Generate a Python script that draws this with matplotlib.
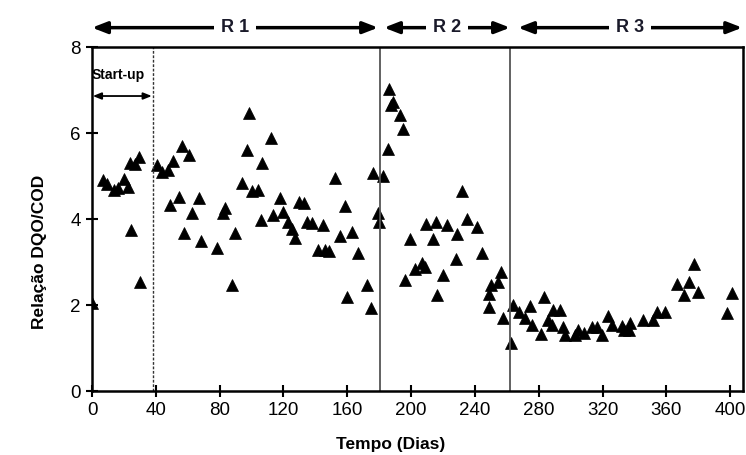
import matplotlib
matplotlib.use("Agg")
import matplotlib.pyplot as plt

plt.rcParams['font.family'] = ['Liberation Sans', 'DejaVu Sans']

# ---- data ----
days = [0, 7.1, 9.2, 14, 16.5, 20.3, 22.4, 23.8, 24.5, 27, 29.7, 30.1,
        40.5, 43.7, 47.4, 51, 56.2, 60.8, 48.9, 54.5, 62.9, 67.3, 57.9, 68.1,
        78.2, 82.3, 83.4, 88, 89.7, 94.2, 97, 98.4, 100, 104, 105.8, 106.8,
        112.2, 113.3, 117.9, 119.6, 123.1, 125.2, 127.3, 130, 132.9, 134.6,
        137.7, 141.9, 144.6, 146, 148.8, 152.4, 155.5, 158.6, 160, 162.8, 167,
        172.6, 174.7, 176.4, 179.5, 180.1,
        182.2, 185.8, 186.4, 187.3, 188.9, 193.1, 194.7, 196.2, 199.4, 202.5,
        206.7, 208.8, 209.4, 213.6, 215.7, 216.5, 219.8, 222.8, 228.2, 229,
        231.8, 235.3, 241.6, 244.3, 248.5, 249.1, 250, 254.7, 256.2, 257.5, 262.5,
        263.8, 267.9, 271.5, 274.2, 275.7, 281.3, 283.4, 285.5, 288.2, 289.2,
        293, 295.1, 296.6, 302.8, 304.3, 308.5, 313.3, 316.4, 319.6, 323.7,
        325.9, 332.1, 333.7, 336.3, 337.3, 345.2, 351.9, 354.4, 359.2, 366.6,
        371.2, 373.9, 377.4, 379.5, 397.9, 401]
ratio = [2.05, 4.91, 4.81, 4.67, 4.73, 4.92, 4.75, 5.31, 3.74, 5.29, 5.45, 2.54,
         5.26, 5.1, 5.14, 5.36, 5.7, 5.49, 4.33, 4.52, 4.13, 4.48, 3.67, 3.49,
         3.33, 4.13, 4.25, 2.47, 3.68, 4.84, 5.6, 6.47, 4.65, 4.67, 3.98, 5.31,
         5.88, 4.09, 4.48, 4.17, 3.92, 3.76, 3.55, 4.4, 4.38, 3.92,
         3.9, 3.28, 3.87, 3.28, 3.26, 4.95, 3.6, 4.3, 2.19, 3.7, 3.2,
         2.47, 1.92, 5.08, 4.15, 3.92,
         5.0, 5.62, 7.02, 6.65, 6.73, 6.42, 6.09, 2.57, 3.53, 2.83,
         2.97, 2.88, 3.88, 3.53, 3.94, 2.23, 2.7, 3.86, 3.06, 3.65,
         4.66, 4.01, 3.82, 3.22, 2.26, 1.96, 2.47, 2.54, 2.77, 1.69, 1.11,
         2.0, 1.84, 1.69, 1.98, 1.53, 1.33, 2.19, 1.65, 1.53, 1.88,
         1.88, 1.48, 1.3, 1.3, 1.43, 1.34, 1.48, 1.48, 1.3, 1.74,
         1.53, 1.51, 1.42, 1.42, 1.57, 1.64, 1.64, 1.84, 1.84, 2.5,
         2.23, 2.54, 2.95, 2.31, 1.81, 2.27]

phase_bounds = [38, 180.5, 262]
phase_labels = ["R 1", "R 2", "R 3"]
phase_spans = [(0, 179.3), (183, 262), (267, 407.5)]
x_ticks = list(range(0, 401, 40))
y_ticks = [0, 2, 4, 6, 8]

# ---- figure ----
fig = plt.figure(figsize=(7.46, 4.55), dpi=100)
ax = fig.add_axes([92/746, 64/455, (743-92)/746, (391-47)/455])

ax.plot(days, ratio, linestyle='none', marker='^', markersize=8.6,
        color='black', markeredgewidth=0.5)

ax.set_xlim(0, 408)
ax.set_ylim(0, 8)
ax.set_xticks(x_ticks)
ax.set_yticks(y_ticks)
ax.tick_params(axis='both', direction='inout', length=8, width=1.5,
               labelsize=13.5, colors='black', pad=4)
for s in ax.spines.values():
    s.set_linewidth(1.8)

ax.set_xlabel("Tempo (Dias)", fontsize=12.5, fontweight='bold')
ax.set_ylabel("Relação DQO/COD", fontsize=12.5, fontweight='bold')
# label centres in pixels: xlabel (391, 445), ylabel (40, 252)
ax.xaxis.set_label_coords((391 - 92) / 651, -(445 - 391) / 344)
ax.yaxis.set_label_coords(-(92 - 40) / 651, (391 - 252) / 344)
ax.xaxis.label.set_va('center')
ax.yaxis.label.set_va('center')

# phase lines
ax.axvline(phase_bounds[0], color='#333333', lw=1.0, linestyle=(0, (2, 1.2)))
ax.axvline(phase_bounds[1], color='#555555', lw=1.3)
ax.axvline(phase_bounds[2], color='#555555', lw=1.3)

# top phase arrows
for (x0, x1), lab in zip(phase_spans, phase_labels):
    ax.annotate('', xy=(x0, 8.45), xytext=(x1, 8.45), xycoords='data',
                annotation_clip=False,
                arrowprops=dict(arrowstyle='<|-|>,head_length=0.9,head_width=0.35',
                                color='black', lw=2.5, shrinkA=0, shrinkB=0))
    ax.text((x0 + x1) / 2, 8.45, lab, ha='center', va='center', fontsize=13,
            fontweight='bold', color='#1a1a2a', clip_on=False,
            bbox=dict(facecolor='white', edgecolor='none', pad=5))

# start-up
ax.text(0, 7.35, "Start-up", ha='left', va='center', fontsize=10,
        fontweight='bold', color='black')
ax.annotate('', xy=(0.5, 6.86), xytext=(37.5, 6.86),
            arrowprops=dict(arrowstyle='<|-|>,head_length=0.5,head_width=0.2',
                            color='black', lw=1.3, shrinkA=0, shrinkB=0))

fig.savefig("out.png", dpi=100)
